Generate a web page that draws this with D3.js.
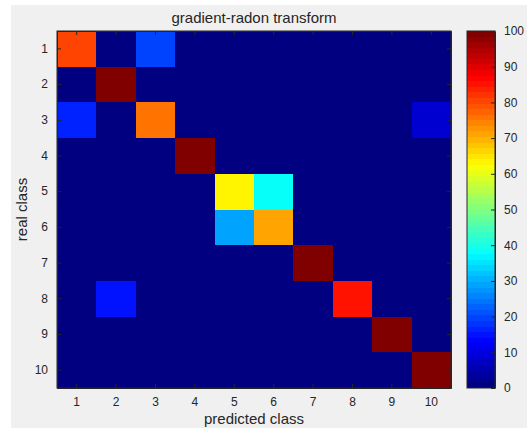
<!DOCTYPE html>
<html><head><meta charset="utf-8">
<script src="https://cdn.jsdelivr.net/npm/d3@7"></script>
<style>body{margin:0;background:#fff}svg{display:block}</style>
</head><body>
<script>
const classes = [1,2,3,4,5,6,7,8,9,10];
const title = "gradient-radon transform";
const xLabel = "predicted class";
const yLabel = "real class";
// confusion matrix (%), rows = real class, cols = predicted class
const row1  = [80,0,20,0,0,0,0,0,0,0];
const row2  = [0,100,0,0,0,0,0,0,0,0];
const row3  = [16.7,0,75,0,0,0,0,0,0,8.3];
const row4  = [0,0,0,100,0,0,0,0,0,0];
const row5  = [0,0,0,0,62.5,37.5,0,0,0,0];
const row6  = [0,0,0,0,28.6,71.4,0,0,0,0];
const row7  = [0,0,0,0,0,0,100,0,0,0];
const row8  = [0,14.3,0,0,0,0,0,85.7,0,0];
const row9  = [0,0,0,0,0,0,0,0,100,0];
const row10 = [0,0,0,0,0,0,0,0,0,100];
const matrix = [row1,row2,row3,row4,row5,row6,row7,row8,row9,row10];
const cbTicks = [0,10,20,30,40,50,60,70,80,90,100];

function jet(t){
  t = Math.max(0, Math.min(1, t));
  // 64-level MATLAB jet
  t = Math.min(63, Math.floor(t*64)) / 63;
  const r = Math.max(0, Math.min(1, 1.5 - Math.abs(4*t - 3)));
  const g = Math.max(0, Math.min(1, 1.5 - Math.abs(4*t - 2)));
  const b = Math.max(0, Math.min(1, 1.5 - Math.abs(4*t - 1)));
  return d3.rgb(r*255, g*255, b*255).toString();
}

const W = 527, H = 428;
const svg = d3.select("body").append("svg").attr("width", W).attr("height", H)
  .style("font-family", "'Liberation Sans', Arial, sans-serif");
svg.append("rect").attr("x",11).attr("y",5).attr("width",W-11).attr("height",H-5).attr("fill","#f0f0f0");

const L = 57, R = 451, T = 31, B = 388;
const x = d3.scaleBand().domain(classes).range([L, R]).padding(0);
const y = d3.scaleBand().domain(classes).range([T, B]).padding(0);
const c = d3.scaleLinear().domain([0,100]).range([0,1]);
const axisColor = "#262626";

const cells = [];
matrix.forEach((row,i) => row.forEach((v,j) => cells.push({r:classes[i], c:classes[j], v})));
// base fill then cells with crisp edges to avoid seams
svg.append("rect").attr("x",L).attr("y",T).attr("width",R-L).attr("height",B-T).attr("fill",jet(0));
svg.append("g").attr("shape-rendering","crispEdges").selectAll("rect").data(cells).join("rect")
  .attr("x", d => Math.round(x(d.c))).attr("y", d => Math.round(y(d.r)))
  .attr("width", d => Math.round(x(d.c)+x.bandwidth()) - Math.round(x(d.c)))
  .attr("height", d => Math.round(y(d.r)+y.bandwidth()) - Math.round(y(d.r)))
  .attr("fill", d => jet(c(d.v)));

function styleAxis(g){
  g.selectAll("path").attr("stroke", axisColor);
  g.selectAll("line").attr("stroke", axisColor);
  g.selectAll("text").attr("fill", axisColor).style("font-size","12px");
  g.attr("font-family", null);
}
svg.append("g").attr("transform",`translate(0,${B})`)
  .call(d3.axisBottom(x).tickSizeInner(-4).tickSizeOuter(0).tickPadding(9)).call(styleAxis);
svg.append("g").attr("transform",`translate(0,${T})`)
  .call(d3.axisTop(x).tickSizeInner(-4).tickSizeOuter(0).tickFormat("")).call(styleAxis);
svg.append("g").attr("transform",`translate(${L},0)`)
  .call(d3.axisLeft(y).tickSizeInner(-4).tickSizeOuter(0).tickPadding(9)).call(styleAxis);
svg.append("g").attr("transform",`translate(${R},0)`)
  .call(d3.axisRight(y).tickSizeInner(-4).tickSizeOuter(0).tickFormat("")).call(styleAxis);
svg.append("rect").attr("x",L).attr("y",T).attr("width",R-L).attr("height",B-T)
  .attr("fill","none").attr("stroke",axisColor).attr("stroke-width",1);

// colorbar
const CL = 467, CR = 495;
const cy = d3.scaleLinear().domain([0,100]).range([B, T]);
const defs = svg.append("defs");
const grad = defs.append("linearGradient").attr("id","jetg").attr("x1",0).attr("y1",1).attr("x2",0).attr("y2",0);
d3.range(0,64).forEach(k => {
  grad.append("stop").attr("offset", k/64).attr("stop-color", jet((k+0.5)/64));
  grad.append("stop").attr("offset", (k+1)/64).attr("stop-color", jet((k+0.5)/64));
});
svg.append("rect").attr("x",CL).attr("y",T).attr("width",CR-CL).attr("height",B-T).attr("fill","url(#jetg)");
svg.append("g").attr("transform",`translate(${CR},0)`)
  .call(d3.axisRight(cy).tickValues(cbTicks).tickSizeInner(-4).tickSizeOuter(0).tickPadding(9)).call(styleAxis);
svg.append("rect").attr("x",CL).attr("y",T).attr("width",CR-CL).attr("height",B-T)
  .attr("fill","none").attr("stroke",axisColor).attr("stroke-width",1);

svg.append("text").attr("x",(L+R)/2).attr("y",23).attr("text-anchor","middle")
  .attr("fill",axisColor).style("font-size","15px").text(title);
svg.append("text").attr("x",(L+R)/2).attr("y",424).attr("text-anchor","middle")
  .attr("fill",axisColor).style("font-size","15px").text(xLabel);
svg.append("text").attr("transform",`translate(27,${(T+B)/2}) rotate(-90)`).attr("text-anchor","middle")
  .attr("fill",axisColor).style("font-size","15px").text(yLabel);
</script>
</body></html>
